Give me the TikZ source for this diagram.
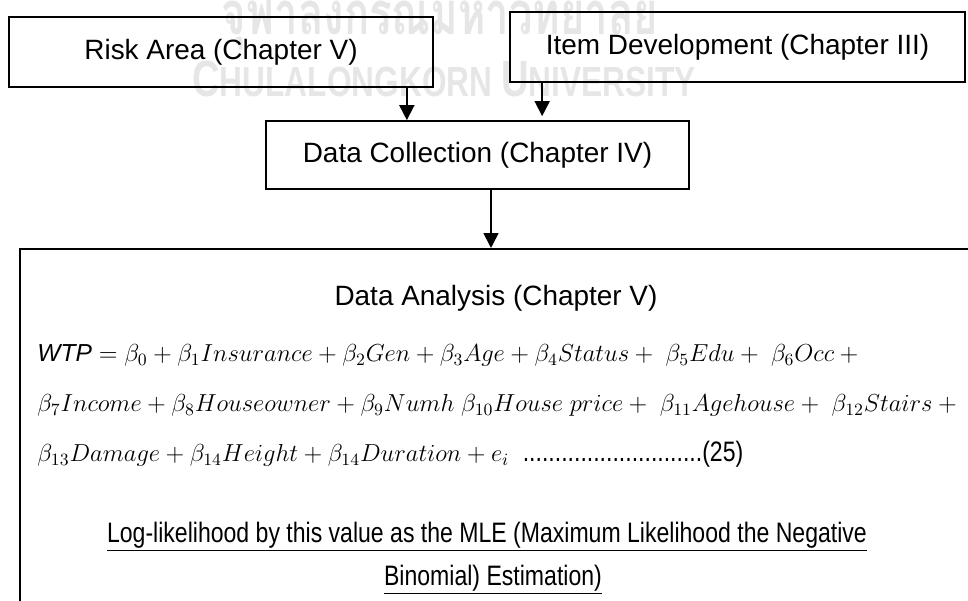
\RequirePackage{fix-cm}
\documentclass[tikz,border=0pt]{standalone}
\usepackage{fontspec}
\setmainfont{Liberation Sans}
\newfontfamily\narrowfont[FakeStretch=0.82]{Liberation Sans}
\newfontfamily\thaimark[Script=Thai, FakeStretch=0.7]{Loma}
\newfontfamily\markfont[FakeStretch=0.75]{Liberation Sans}
\usetikzlibrary{arrows.meta, positioning}
\definecolor{markgray}{HTML}{E6E6E6}
\newcommand{\boxsize}{\fontsize{15.9}{19}\selectfont}
\newcommand{\eqsize}{\fontsize{14}{17}\selectfont}
\newcommand{\notesize}{\fontsize{16}{19}\selectfont}

\begin{document}
\begin{tikzpicture}[x=0.02cm, y=-0.02cm,
  stagebox/.style={draw, line width=1pt, font=\boxsize, inner sep=0pt, minimum height=1.4cm},
  arr/.style={-{Triangle[length=0.3cm, width=0.3cm]}, line width=1pt},
  eqline/.style={anchor=base west, font=\eqsize, inner sep=0pt},
  notetext/.style={font=\narrowfont\notesize, inner sep=0pt},
  wmark/.style={text=markgray, inner sep=0pt, anchor=base},
]
  \path[use as bounding box] (0,0) rectangle (968,601);
  \clip (0,0) rectangle (968,601);

  % watermark
  \node[wmark, font=\thaimark\bfseries\fontsize{34}{34}\selectfont] (wmthai) at (440, 35) {จุฬาลงกรณ์มหาวิทยาลัย};
  \node[wmark, font=\markfont\bfseries] (wmeng) at (444, 97)
    {\fontsize{29}{29}\selectfont C\fontsize{24}{24}\selectfont HULALONGKORN\ \fontsize{29}{29}\selectfont U\fontsize{24}{24}\selectfont NIVERSITY};

  % chapters
  \node[stagebox, minimum width=8.48cm] (risk) at (221, 52) {Risk Area (Chapter V)};
  \node[stagebox, minimum width=9.1cm] (item) at (737.5, 47) {Item Development (Chapter III)};
  \node[stagebox, minimum width=8.46cm, minimum height=1.36cm] (collect) at (477.5, 155) {Data Collection (Chapter IV)};
  \node[draw, line width=1pt, anchor=north west, minimum width=20cm, minimum height=8cm] (analysis) at (19, 248) {};

  \draw[arr] ([xshift=-0.54cm]risk.south east) -- ([xshift=-0.54cm]risk.south east |- collect.north);
  \draw[arr] ([xshift=0.66cm]item.south west) -- ([xshift=0.66cm, yshift=0.08cm]item.south west |- collect.north);
  \draw[arr] ([xshift=0.27cm]collect.south) -- ([xshift=0.27cm]collect.south |- analysis.north);

  % analysis text
  \node[font=\boxsize, inner sep=0pt] (title) at (496, 298) {Data Analysis (Chapter V)};
  \node[eqline] (eq1) at (37, 362)
    {\textit{WTP} $=\beta_0 + \beta_1 Insurance + \beta_2 Gen + \beta_3 Age + \beta_4 Status +\; \beta_5 Edu +\; \beta_6 Occ +{}$};
  \node[eqline] (eq2) at (37, 412)
    {$\beta_7 Income + \beta_8 Houseowner + \beta_9 Numh\ \beta_{10} House\ price +\; \beta_{11} Agehouse +\; \beta_{12} Stairs +{}$};
  \node[eqline] (eq3) at (37, 462)
    {$\beta_{13} Damage + \beta_{14} Height + \beta_{14} Duration + e_i$\ \ {\narrowfont\notesize ............................(25)}};
  \node[notetext] (note1) at (487, 537) {\underline{Log-likelihood by this value as the MLE (Maximum Likelihood the Negative}};
  \node[notetext] (note2) at (493, 580) {\underline{Binomial) Estimation)}};
\end{tikzpicture}
\end{document}
